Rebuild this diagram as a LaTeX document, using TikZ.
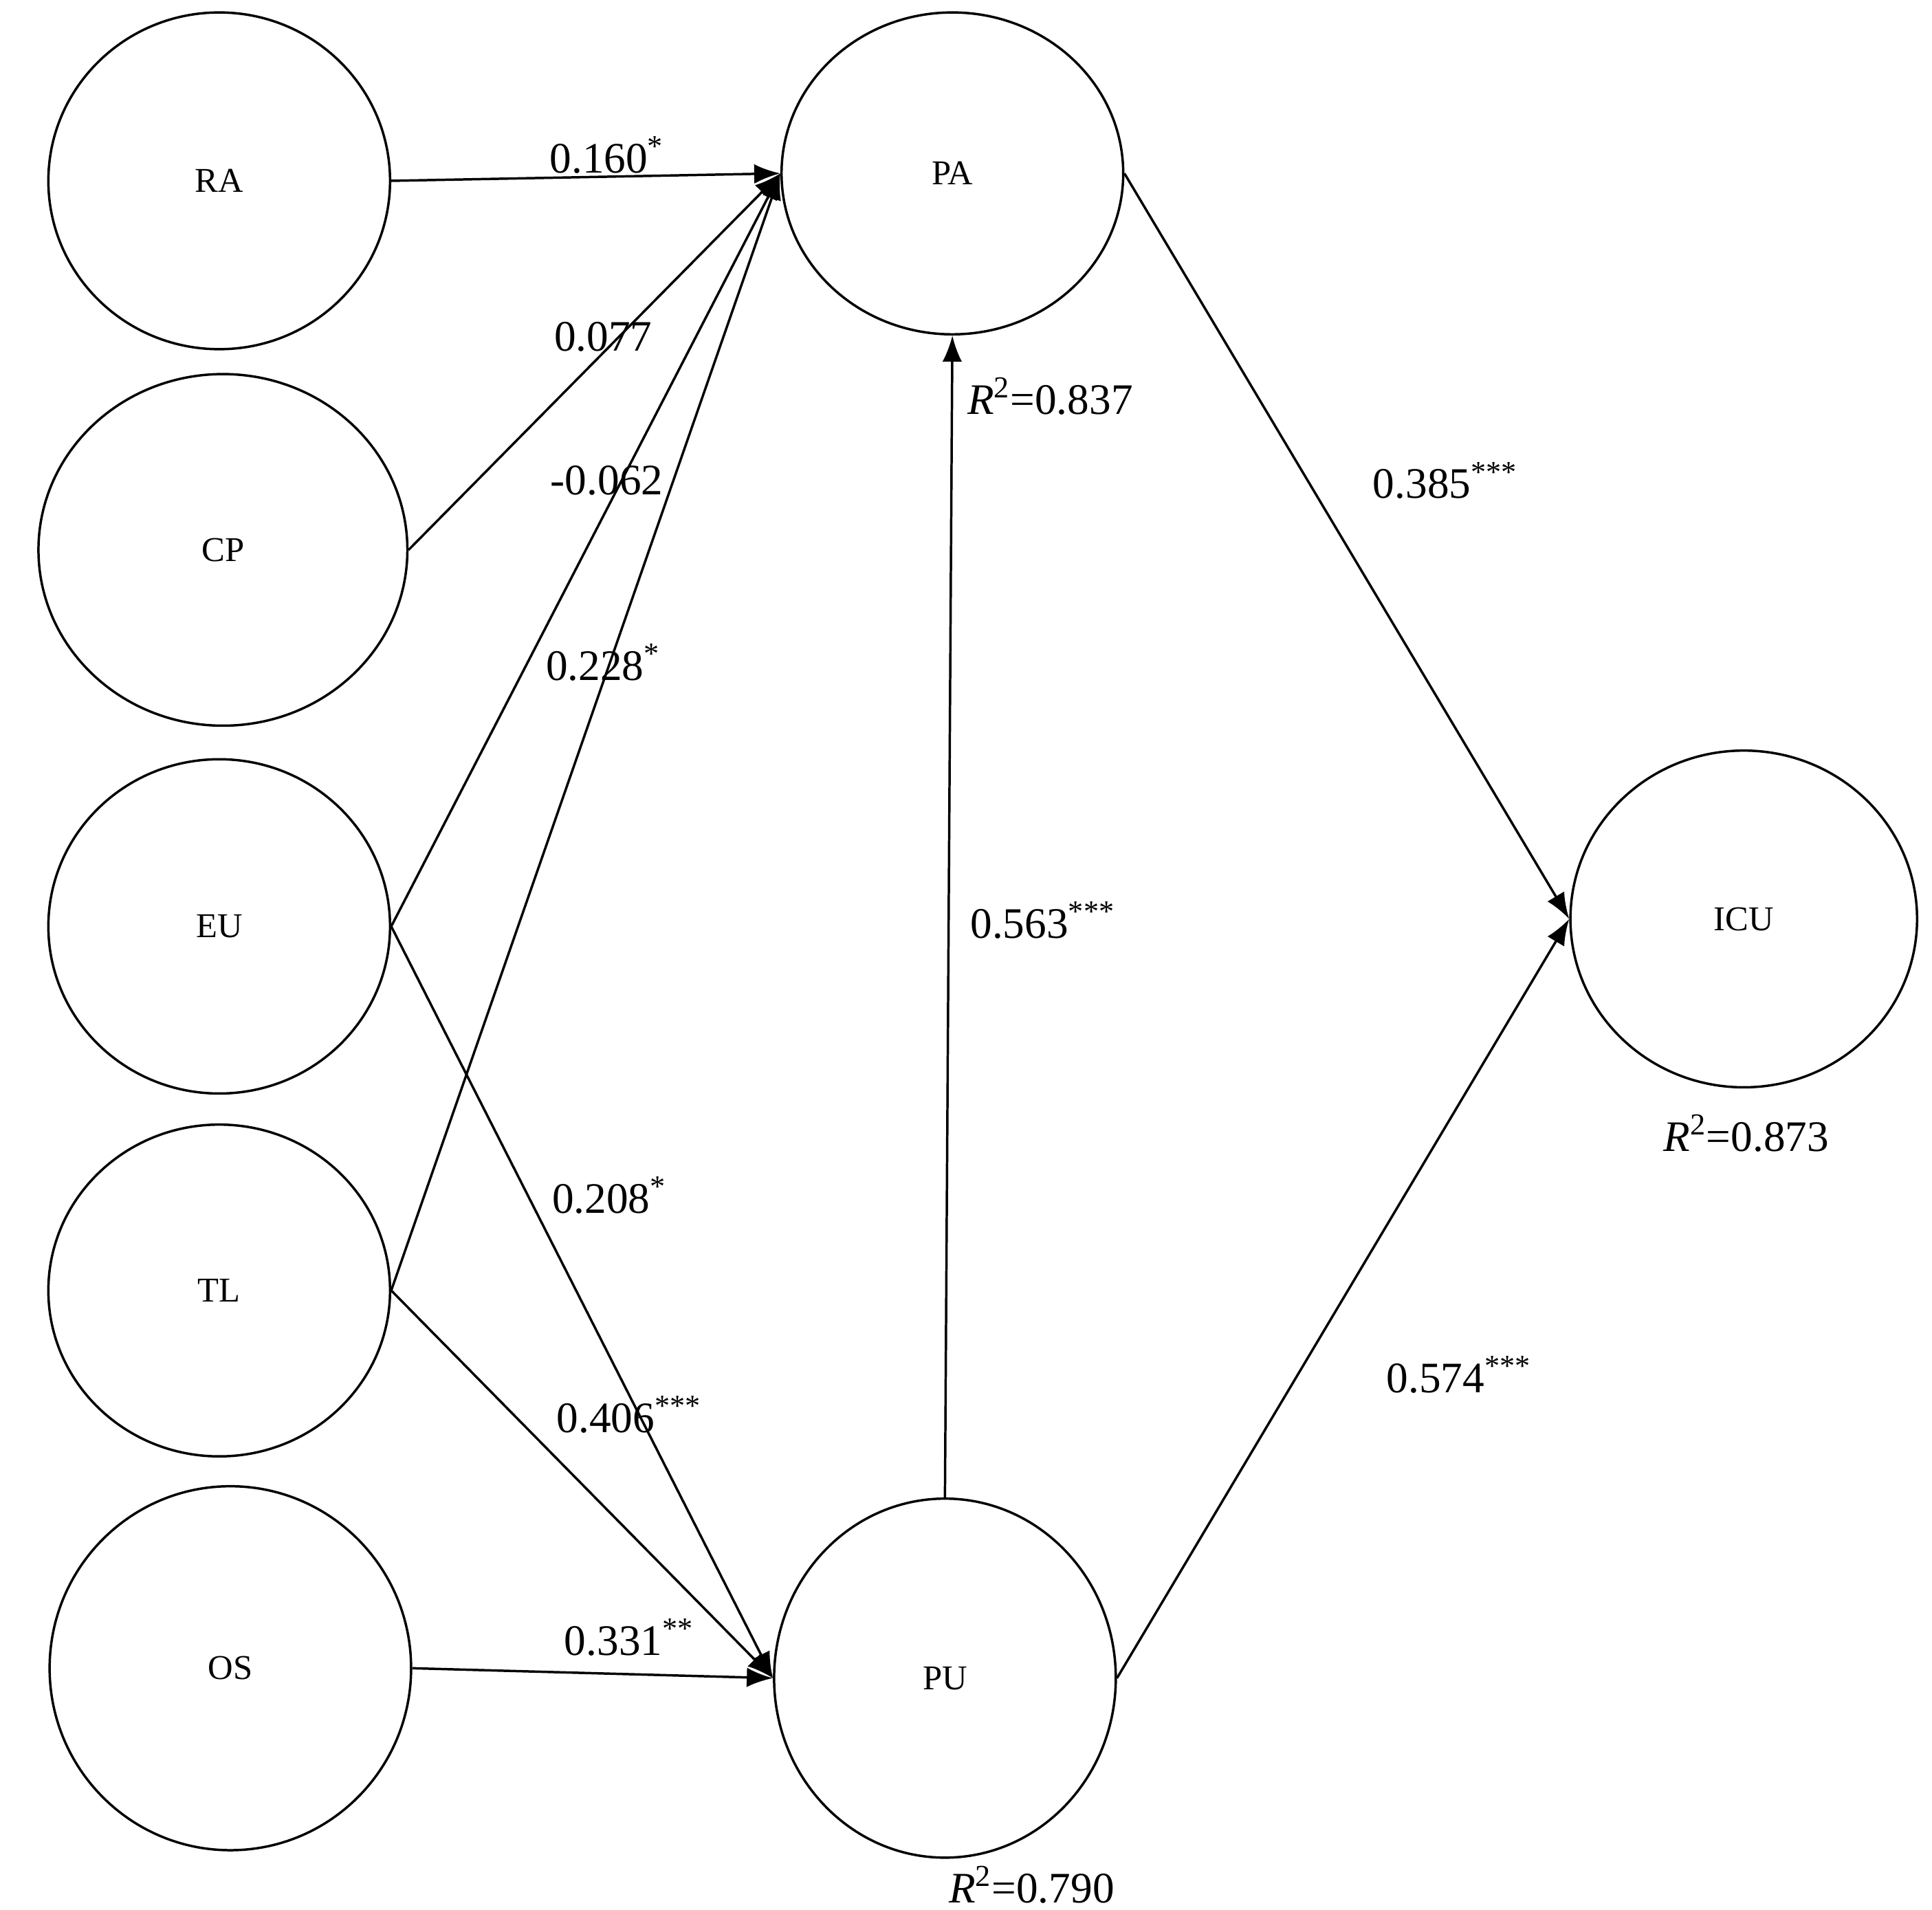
\documentclass[tikz,border=0pt]{standalone}
\usepackage{fontspec}
\setmainfont{Liberation Serif}
\usetikzlibrary{arrows.meta,shapes.geometric}
\begin{document}
\begin{tikzpicture}[x=0.02cm,y=-0.02cm,
 lv/.style={ellipse,draw,line width=1.1pt,inner sep=0pt,font=\fontsize{16}{18}\selectfont},
 ar/.style={line width=1.1pt,-{Latex[length=12pt,width=9pt]}},
 lab/.style={font=\fontsize{20}{22}\selectfont,inner sep=0pt}]
\useasboundingbox (0,0) rectangle (1560,1542);
\newcommand{\lvnode}[6]{\node[lv,minimum width=#4*0.04cm,minimum height=#5*0.04cm] (#1) at (#2,#3) {#6};}
\lvnode{RA}{177}{146}{138}{136}{RA}
\lvnode{CP}{180}{444}{149}{142}{CP}
\lvnode{EU}{177}{748}{138}{135}{EU}
\lvnode{TL}{177}{1042}{138}{134}{TL}
\lvnode{OS}{186}{1347}{146}{147}{OS}
\lvnode{PA}{769}{140}{138}{130}{PA}
\lvnode{PU}{763}{1355}{138}{145}{PU}
\lvnode{ICU}{1408}{742}{140}{136}{ICU}
\coordinate (pain) at (PA.west);
\coordinate (puin) at (PU.west);
\draw[ar] (RA.east) -- (pain);
\draw[ar] (CP.east) -- (pain);
\draw[ar] (EU.east) -- (pain);
\draw[ar] (TL.east) -- (pain);
\draw[ar] (EU.east) -- (puin);
\draw[ar] (TL.east) -- (puin);
\draw[ar] (OS.east) -- (puin);
\draw[ar] (PU.north) -- (PA.south);
\draw[ar] (PA.east) -- (ICU.west);
\draw[ar] (PU.east) -- (ICU.west);
\node[lab] (l1) at (490,125) {0.160\textsuperscript{*}};
\node[lab] (l2) at (487,272) {0.077};
\node[lab] (l3) at (490,388) {-0.062};
\node[lab] (l4) at (487,535) {0.228\textsuperscript{*}};
\node[lab] (l5) at (492,965) {0.208\textsuperscript{*}};
\node[lab] (l6) at (508,1142) {0.406\textsuperscript{***}};
\node[lab] (l7) at (508,1322) {0.331\textsuperscript{**}};
\node[lab] (l8) at (848,320) {\textit{R}\textsuperscript{2}=0.837};
\node[lab] (l9) at (1167,388) {0.385\textsuperscript{***}};
\node[lab] (l10) at (842,743) {0.563\textsuperscript{***}};
\node[lab] (l11) at (1410,915) {\textit{R}\textsuperscript{2}=0.873};
\node[lab] (l12) at (1178,1110) {0.574\textsuperscript{***}};
\node[lab] (l13) at (833,1522) {\textit{R}\textsuperscript{2}=0.790};
\end{tikzpicture}
\end{document}
